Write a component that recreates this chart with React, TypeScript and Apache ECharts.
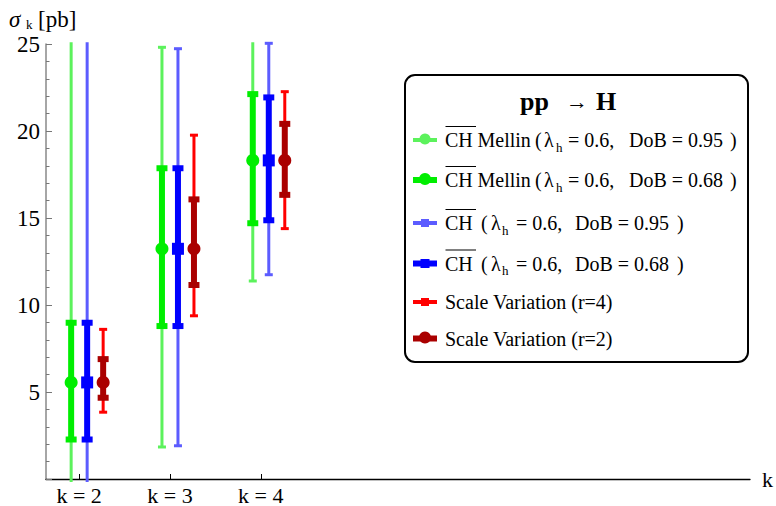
import React, { useEffect, useRef } from "react";
import * as echarts from "echarts";

// ---------- data ----------
const kValues = [2, 3, 4];
const kLabels = ["k = 2", "k = 3", "k = 4"];
const yTickLabels = [5, 10, 15, 20, 25];
const centers = [5.55, 13.23, 18.31];

const mellin95Low = [-2.5, 1.84, 11.38];
const mellin95High = [30, 24.81, 25.6];
const mellin68Low = [2.27, 8.79, 14.7];
const mellin68High = [8.98, 17.86, 22.12];

const ch95Low = [-2.5, 1.91, 11.74];
const ch95High = [30, 24.73, 25.04];
const ch68Low = [2.27, 8.79, 14.87];
const ch68High = [8.98, 17.86, 21.93];

const scale4Low = [3.84, 9.38, 14.39];
const scale4High = [8.6, 19.76, 22.26];
const scale2Low = [4.67, 11.15, 16.33];
const scale2High = [6.89, 16.07, 20.41];

const legendNames = [
  "CH Mellin ( λh = 0.6, DoB = 0.95 )",
  "CH Mellin ( λh = 0.6, DoB = 0.68 )",
  "CH ( λh = 0.6, DoB = 0.95 )",
  "CH ( λh = 0.6, DoB = 0.68 )",
  "Scale Variation (r=4)",
  "Scale Variation (r=2)",
];

const FONT = "Liberation Serif, Times New Roman, serif";
const Y_MIN = 0;
const Y_MAX = 25;
const CLIP_LO = -0.17;
const CLIP_HI = 25.1;

type Cfg = {
  name: string;
  low: number[];
  high: number[];
  color: string;
  lw: number;
  capW: number;
  capH: number;
  offset: number;
  marker: "circle" | "square" | "none";
  msize: number;
};

const seriesCfg: Cfg[] = [
  { name: legendNames[0], low: mellin95Low, high: mellin95High, color: "#5cf25c", lw: 3, capW: 8, capH: 3, offset: -8, marker: "none", msize: 0 },
  { name: legendNames[2], low: ch95Low, high: ch95High, color: "#5c5cff", lw: 3, capW: 8, capH: 3, offset: 8, marker: "none", msize: 0 },
  { name: legendNames[4], low: scale4Low, high: scale4High, color: "#ff0000", lw: 3, capW: 8, capH: 3, offset: 24, marker: "square", msize: 8 },
  { name: legendNames[1], low: mellin68Low, high: mellin68High, color: "#00ee00", lw: 6, capW: 11, capH: 6, offset: -8, marker: "circle", msize: 13 },
  { name: legendNames[3], low: ch68Low, high: ch68High, color: "#0000ff", lw: 6, capW: 11, capH: 6, offset: 8, marker: "square", msize: 12 },
  { name: legendNames[5], low: scale2Low, high: scale2High, color: "#aa0000", lw: 6, capW: 11, capH: 6, offset: 24, marker: "circle", msize: 13 },
];

function makeSeries(cfg: Cfg) {
  const data = kValues.map((k, i) => [k, centers[i], cfg.low[i], cfg.high[i]]);
  return {
    type: "custom",
    name: cfg.name,
    clip: false,
    encode: { x: 0, y: 1 },
    data,
    renderItem: (params: any, api: any) => {
      const x = api.value(0);
      const c = api.value(1);
      const lo = api.value(2);
      const hi = api.value(3);
      const pLo = api.coord([x, Math.max(lo, CLIP_LO)]);
      const pHi = api.coord([x, Math.min(hi, CLIP_HI)]);
      const pc = api.coord([x, c]);
      const px = pLo[0] + cfg.offset;
      const children: any[] = [
        {
          type: "line",
          shape: { x1: px, y1: pLo[1], x2: px, y2: pHi[1] },
          style: { stroke: cfg.color, lineWidth: cfg.lw },
        },
      ];
      if (lo >= Y_MIN) {
        const y = api.coord([x, lo])[1];
        children.push({ type: "rect", shape: { x: px - cfg.capW / 2, y: y - cfg.capH / 2, width: cfg.capW, height: cfg.capH }, style: { fill: cfg.color } });
      }
      if (hi <= CLIP_HI) {
        const y = api.coord([x, hi])[1];
        children.push({ type: "rect", shape: { x: px - cfg.capW / 2, y: y - cfg.capH / 2, width: cfg.capW, height: cfg.capH }, style: { fill: cfg.color } });
      }
      if (cfg.marker === "circle") {
        children.push({ type: "circle", shape: { cx: px, cy: pc[1], r: cfg.msize / 2 }, style: { fill: cfg.color } });
      } else if (cfg.marker === "square") {
        children.push({ type: "rect", shape: { x: px - cfg.msize / 2, y: pc[1] - cfg.msize / 2, width: cfg.msize, height: cfg.msize }, style: { fill: cfg.color } });
      }
      return { type: "group", children };
    },
  };
}

function txt(text: string, x: number, y: number, extra: any = {}) {
  return {
    type: "text",
    x,
    y,
    style: {
      text,
      fontFamily: FONT,
      fontSize: 20,
      fill: "#000",
      textVerticalAlign: "middle",
      ...extra,
    },
  };
}

function buildLegend() {
  const els: any[] = [];
  els.push({
    type: "rect",
    shape: { x: 405, y: 75, width: 343, height: 287, r: 10 },
    style: { fill: "#fff", stroke: "#000", lineWidth: 2 },
  });
  // title
  els.push(txt("pp", 520, 101, { fontWeight: "bold", fontSize: 26 }));
  els.push(txt("→", 566, 101, { fontWeight: "bold", fontSize: 22 }));
  els.push(txt("H", 596, 101, { fontWeight: "bold", fontSize: 26 }));

  const rowsY = [140, 180, 223, 263.5, 302, 338.5];
  const markerCfg = [
    { color: "#5cf25c", lw: 4, marker: "circle", s: 11 },
    { color: "#00ee00", lw: 6, marker: "circle", s: 12 },
    { color: "#5c5cff", lw: 4, marker: "square", s: 8 },
    { color: "#0000ff", lw: 6, marker: "square", s: 9 },
    { color: "#ff0000", lw: 4, marker: "square", s: 8 },
    { color: "#aa0000", lw: 6, marker: "circle", s: 12 },
  ];
  rowsY.forEach((y, i) => {
    const m = markerCfg[i];
    els.push({ type: "line", shape: { x1: 413, y1: y, x2: 437, y2: y }, style: { stroke: m.color, lineWidth: m.lw } });
    if (m.marker === "circle") {
      els.push({ type: "circle", shape: { cx: 425, cy: y - 1, r: m.s / 2 }, style: { fill: m.color } });
    } else {
      els.push({ type: "rect", shape: { x: 425 - m.s / 2, y: y - m.s / 2, width: m.s, height: m.s }, style: { fill: m.color } });
    }
  });

  // rows with overlined CH
  const mellinRows = [
    { y: rowsY[0], dob: "DoB = 0.95" },
    { y: rowsY[1], dob: "DoB = 0.68" },
  ];
  mellinRows.forEach((r) => {
    els.push(txt("CH", 445, r.y));
    els.push({ type: "line", shape: { x1: 445.5, y1: r.y - 13.5, x2: 476, y2: r.y - 13.5 }, style: { stroke: "#000", lineWidth: 1 } });
    els.push(txt("Mellin", 477.5, r.y));
    els.push(txt("(", 535, r.y));
    els.push(txt("λ", 544, r.y));
    els.push(txt("h", 556, r.y + 7, { fontSize: 13 }));
    els.push(txt("= 0.6,", 568, r.y));
    els.push(txt(r.dob, 629, r.y));
    els.push(txt(")", 730, r.y));
  });
  const chRows = [
    { y: rowsY[2], dob: "DoB = 0.95" },
    { y: rowsY[3], dob: "DoB = 0.68" },
  ];
  chRows.forEach((r) => {
    els.push(txt("CH", 445, r.y));
    els.push({ type: "line", shape: { x1: 445.5, y1: r.y - 13.5, x2: 476, y2: r.y - 13.5 }, style: { stroke: "#000", lineWidth: 1 } });
    els.push(txt("(", 481, r.y));
    els.push(txt("λ", 491, r.y));
    els.push(txt("h", 502, r.y + 7, { fontSize: 13 }));
    els.push(txt("= 0.6,", 516, r.y));
    els.push(txt(r.dob, 575, r.y));
    els.push(txt(")", 677, r.y));
  });
  els.push(txt(legendNames[4], 445, rowsY[4]));
  els.push(txt(legendNames[5], 445, rowsY[5]));

  // axis title sigma_k [pb]
  els.push(txt("σ", 9, 19, { fontStyle: "italic", fontSize: 23 }));
  els.push(txt("k", 26, 24, { fontSize: 13 }));
  els.push(txt("[pb]", 38, 19, { fontSize: 23 }));
  return els;
}

export default function App() {
  const ref = useRef<HTMLDivElement>(null);
  useEffect(() => {
    if (!ref.current) return;
    const chart = echarts.init(ref.current, undefined, { renderer: "svg" });
    chart.setOption({
      animation: false,
      backgroundColor: "#fff",
      grid: { left: 46, top: 44, width: 707, height: 437.5, containLabel: false },
      xAxis: {
        type: "value",
        min: 1.635,
        max: 9.387,
        name: "k",
        nameLocation: "end",
        nameGap: 12,
        nameTextStyle: { fontFamily: FONT, fontSize: 22, color: "#000", verticalAlign: "middle", align: "left" },
        axisLine: { show: true, onZero: false, lineStyle: { color: "#000", width: 1.3 } },
        axisTick: { show: true, inside: true, length: 5, customValues: kValues, lineStyle: { color: "#000" } },
        axisLabel: {
          show: true,
          customValues: kValues,
          margin: 5,
          fontFamily: FONT,
          fontSize: 22,
          color: "#000",
          formatter: (v: number) => kLabels[kValues.indexOf(Math.round(v))] ?? "",
        },
        splitLine: { show: false },
      },
      yAxis: {
        type: "value",
        min: Y_MIN,
        max: Y_MAX,
        interval: 5,
        axisLine: { show: true, lineStyle: { color: "#888", width: 1.5 } },
        axisTick: { show: true, inside: true, length: 6, lineStyle: { color: "#777" } },
        minorTick: { show: true, splitNumber: 5, length: 3.5, lineStyle: { color: "#777" } },
        axisLabel: {
          show: true,
          customValues: yTickLabels,
          margin: 6,
          fontFamily: FONT,
          fontSize: 23,
          color: "#000",
          formatter: (v: number) => String(v),
        },
        splitLine: { show: false },
      },
      graphic: { elements: buildLegend() },
      series: seriesCfg.map(makeSeries),
    });
    return () => chart.dispose();
  }, []);
  return (
    <div
      ref={ref}
      style={{ position: "fixed", left: 0, top: 0, width: 776, height: 506, background: "#fff" }}
    />
  );
}
